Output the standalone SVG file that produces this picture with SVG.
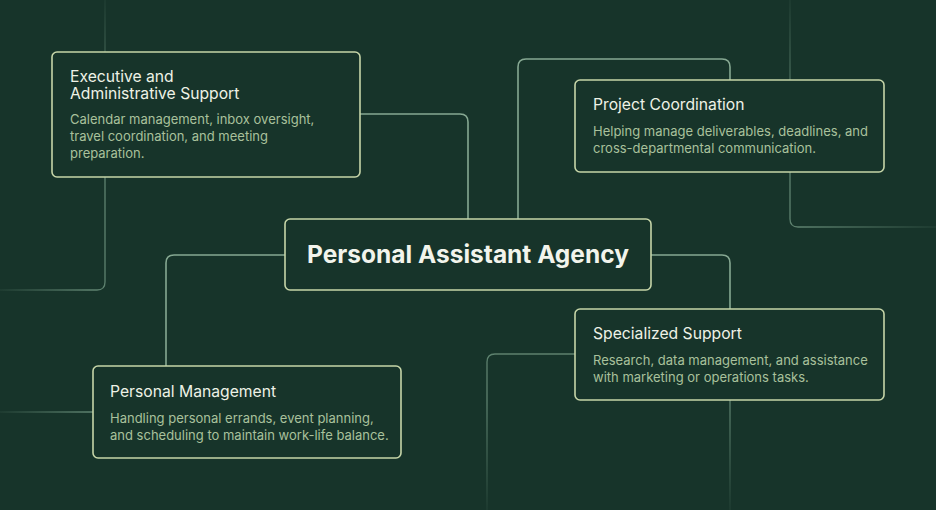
<svg xmlns="http://www.w3.org/2000/svg" width="936" height="510" viewBox="0 0 936 510">
  <defs>
    <linearGradient id="fadeTop" gradientUnits="userSpaceOnUse" x1="0" y1="0" x2="0" y2="120">
      <stop offset="0" stop-color="#6f9580" stop-opacity="0.1"/>
      <stop offset="1" stop-color="#6f9580" stop-opacity="0.8"/>
    </linearGradient>
    <linearGradient id="fadeLeft" gradientUnits="userSpaceOnUse" x1="0" y1="0" x2="90" y2="0">
      <stop offset="0" stop-color="#6f9580" stop-opacity="0.1"/>
      <stop offset="1" stop-color="#6f9580" stop-opacity="0.8"/>
    </linearGradient>
    <linearGradient id="fadeRight" gradientUnits="userSpaceOnUse" x1="800" y1="0" x2="936" y2="0">
      <stop offset="0" stop-color="#6f9580" stop-opacity="0.8"/>
      <stop offset="1" stop-color="#6f9580" stop-opacity="0.1"/>
    </linearGradient>
    <linearGradient id="fadeBottom" gradientUnits="userSpaceOnUse" x1="0" y1="400" x2="0" y2="510">
      <stop offset="0" stop-color="#6f9580" stop-opacity="0.8"/>
      <stop offset="1" stop-color="#6f9580" stop-opacity="0.1"/>
    </linearGradient>
  </defs>
  <style>
    .bg { fill: #17342a; }
    .box { fill: #17342a; stroke: #c6d5a8; stroke-width: 1.6; }
    .conn { fill: none; stroke: #86a892; stroke-width: 1.6; }
    .deco { fill: none; stroke-width: 1.3; }
    .title { font-family: Inter, "Liberation Sans", Arial, sans-serif; font-size: 15.7px; fill: #eef2e6; }
    .desc { font-family: Inter, "Liberation Sans", Arial, sans-serif; font-size: 13px; fill: #a9c19c; }
    .main { font-family: Inter, "Liberation Sans", Arial, sans-serif; font-size: 24.5px; font-weight: bold; fill: #f2f4ec; }
  </style>
  <rect class="bg" x="0" y="0" width="936" height="510"/>

  <g id="decorations">
    <path class="deco" stroke="url(#fadeTop)" d="M105,0 V282"/>
    <path class="deco" stroke="#6f9580" stroke-opacity="0.8" d="M105,282 Q105,290 97,290"/>
    <path class="deco" stroke="url(#fadeLeft)" d="M97,290 H0"/>
    <path class="deco" stroke="url(#fadeLeft)" d="M0,412 H93"/>
    <path class="deco" stroke="url(#fadeTop)" d="M790,0 V219"/>
    <path class="deco" stroke="#6f9580" stroke-opacity="0.8" d="M790,219 Q790,227 798,227"/>
    <path class="deco" stroke="url(#fadeRight)" d="M798,227 H936"/>
    <path class="deco" stroke="#6f9580" stroke-opacity="0.8" d="M575,354 H495 Q487,354 487,362 V400"/>
    <path class="deco" stroke="url(#fadeBottom)" d="M487,400 V510"/>
    <path class="deco" stroke="url(#fadeBottom)" d="M730,400 V510"/>
  </g>

  <g id="connectors">
    <path class="conn" d="M360,114 H460 Q468,114 468,122 V219"/>
    <path class="conn" d="M518,219 V67 Q518,59 526,59 H722 Q730,59 730,67 V80"/>
    <path class="conn" d="M651,255 H722 Q730,255 730,263 V309"/>
    <path class="conn" d="M285,255 H174 Q166,255 166,263 V366"/>
  </g>

  <g id="executive">
    <rect class="box" x="52" y="52" width="308" height="125" rx="5"/>
    <text class="title" x="70" y="81.5">Executive and</text>
    <text class="title" x="70" y="99">Administrative Support</text>
    <text class="desc" x="70" y="124">Calendar management, inbox oversight,</text>
    <text class="desc" x="70" y="141">travel coordination, and meeting</text>
    <text class="desc" x="70" y="158">preparation.</text>
  </g>

  <g id="project">
    <rect class="box" x="575" y="80" width="309" height="92" rx="5"/>
    <text class="title" x="593" y="110">Project Coordination</text>
    <text class="desc" x="593" y="136">Helping manage deliverables, deadlines, and</text>
    <text class="desc" x="593" y="153">cross-departmental communication.</text>
  </g>

  <g id="central">
    <rect class="box" x="285" y="219" width="366" height="71" rx="5"/>
    <text class="main" x="468" y="263" text-anchor="middle">Personal Assistant Agency</text>
  </g>

  <g id="specialized">
    <rect class="box" x="575" y="309" width="309" height="91" rx="5"/>
    <text class="title" x="593" y="339">Specialized Support</text>
    <text class="desc" x="593" y="365">Research, data management, and assistance</text>
    <text class="desc" x="593" y="382">with marketing or operations tasks.</text>
  </g>

  <g id="personal">
    <rect class="box" x="93" y="366" width="308" height="92" rx="5"/>
    <text class="title" x="110" y="397">Personal Management</text>
    <text class="desc" x="110" y="423">Handling personal errands, event planning,</text>
    <text class="desc" x="110" y="440">and scheduling to maintain work-life balance.</text>
  </g>
</svg>
